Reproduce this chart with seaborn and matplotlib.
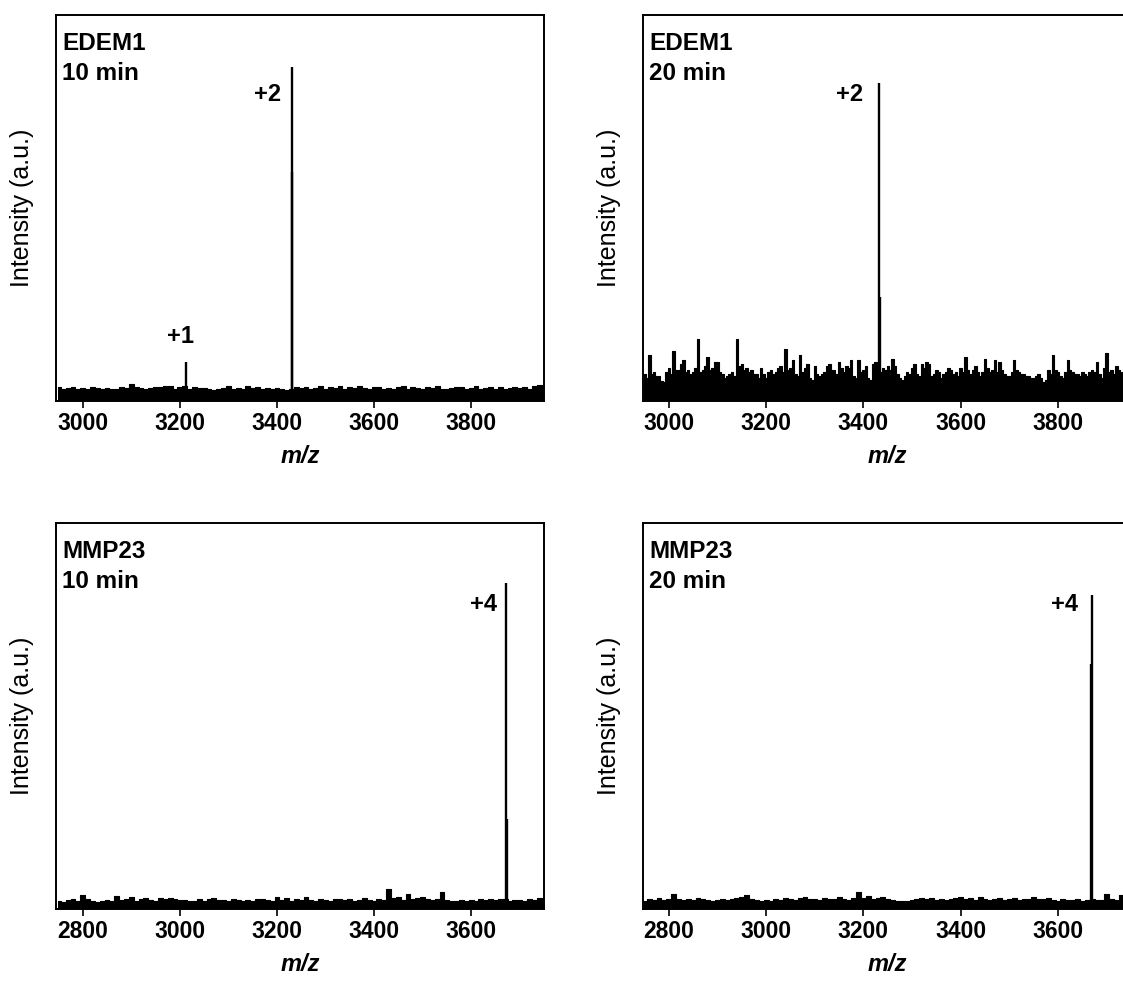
import numpy as np
import pandas as pd
import matplotlib
matplotlib.use("Agg")
import matplotlib.pyplot as plt
import seaborn as sns

# ---------------- data (intensity in % of axis height) ----------------
tl_start, tl_step = 2950, 10
tl_noise = [3.6, 3.0, 3.3, 3.5, 3.2, 3.4, 3.0, 3.6, 3.3, 3.1,
            3.4, 3.2, 3.0, 3.5, 3.3, 4.5, 3.6, 3.4, 3.1, 3.3,
            3.6, 3.5, 3.8, 4.0, 3.2, 3.5, 3.8, 3.0, 3.6, 3.3,
            3.4, 3.2, 2.8, 3.0, 3.3, 3.9, 3.1, 3.4, 3.2, 3.8,
            3.3, 3.6, 3.2, 3.4, 3.0, 3.3, 3.1, 2.8, 3.2, 3.5,
            3.3, 3.6, 3.2, 3.4, 4.0, 3.1, 3.5, 3.3, 3.8, 3.2,
            3.6, 3.4, 3.9, 3.3, 3.1, 3.5, 3.7, 3.2, 3.4, 3.0,
            3.6, 3.9, 3.2, 3.5, 3.3, 3.1, 3.6, 3.4, 3.8, 3.2,
            3.0, 3.3, 3.5, 3.7, 3.2, 3.4, 3.9, 3.1, 3.3, 3.6,
            3.2, 3.5, 3.0, 3.4, 3.7, 3.3, 3.6, 3.2, 3.8, 4.2, 3.6]
tl_peak_mz = [3212, 3430, 3432]
tl_peak_int = [10.0, 86.5, 59.3]

tr_start, tr_step = 2950, 5
tr_noise = [7.0, 6.0, 12.0, 7.0, 7.5, 6.5, 6.5, 5.2, 5.0, 7.5,
            8.5, 7.0, 13.0, 8.0, 8.0, 9.5, 10.5, 7.5, 8.0, 7.0,
            7.5, 8.5, 16.0, 7.5, 8.0, 9.0, 11.5, 8.0, 8.5, 10.0,
            10.0, 7.5, 7.0, 6.0, 6.5, 7.0, 7.5, 6.5, 16.0, 9.0,
            9.5, 8.0, 8.5, 7.5, 8.0, 7.0, 7.0, 6.0, 8.5, 7.0,
            6.0, 7.5, 8.0, 7.0, 7.5, 8.5, 9.0, 7.5, 13.5, 8.0,
            8.5, 10.5, 7.0, 6.5, 12.0, 7.5, 8.5, 9.5, 6.0, 5.5,
            9.0, 7.0, 6.5, 7.0, 7.5, 9.0, 9.5, 8.0, 8.0, 7.0,
            10.0, 8.5, 7.5, 9.0, 8.5, 10.5, 6.5, 6.0, 10.5, 7.5,
            8.0, 9.0, 6.0, 5.5, 9.5, 10.0, 7.5, 7.5, 8.5, 8.0,
            9.0, 8.0, 11.0, 9.0, 7.0, 6.0, 5.5, 6.5, 7.5, 7.0,
            8.5, 9.5, 7.0, 6.5, 9.5, 8.5, 10.0, 9.5, 6.5, 7.0,
            8.0, 7.5, 6.0, 7.0, 7.5, 8.5, 8.0, 7.0, 7.5, 6.5,
            8.5, 7.5, 11.5, 8.0, 7.0, 8.0, 9.0, 7.5, 6.5, 7.5,
            11.0, 8.5, 7.5, 8.0, 10.5, 7.5, 10.0, 8.0, 7.0, 6.5,
            6.5, 7.5, 10.5, 8.0, 7.5, 7.0, 7.0, 6.5, 6.5, 6.0,
            6.0, 6.5, 7.0, 6.0, 5.0, 5.5, 8.0, 7.0, 12.0, 8.0,
            7.5, 6.5, 6.0, 7.5, 10.5, 8.0, 7.5, 7.0, 7.0, 6.5,
            7.5, 7.0, 6.5, 7.5, 8.0, 7.5, 10.0, 7.0, 6.0, 8.5,
            12.5, 7.5, 8.0, 7.0, 9.0, 8.0, 7.5, 7.0, 8.0, 7.5, 7.5]
tr_peak_mz = [3432, 3434]
tr_peak_int = [82.4, 27.0]

bl_start, bl_step = 2750, 10
bl_noise = [2.0, 1.8, 2.3, 2.5, 2.2, 3.5, 2.6, 2.2, 1.9, 2.1,
            2.4, 2.2, 3.3, 2.3, 2.5, 3.0, 2.2, 2.6, 2.9, 2.4,
            2.2, 2.8, 2.5, 2.9, 2.6, 2.3, 2.4, 2.0, 2.2, 2.7,
            2.1, 2.5, 2.8, 2.3, 2.4, 2.2, 2.6, 2.3, 2.0, 2.4,
            2.2, 2.5, 2.7, 2.3, 2.1, 3.2, 2.4, 2.8, 2.2, 2.6,
            2.4, 3.0, 2.3, 2.1, 2.6, 2.4, 2.2, 2.5, 2.7, 2.3,
            2.6, 2.1, 2.4, 2.9, 2.3, 2.1, 2.6, 2.4, 5.2, 2.8,
            3.0, 2.4, 4.0, 2.6, 2.8, 3.2, 2.5, 2.3, 2.6, 4.5,
            2.4, 2.2, 2.0, 2.3, 2.1, 2.4, 2.2, 2.5, 2.3, 2.6,
            2.4, 2.7, 2.5, 2.2, 2.4, 2.3, 2.1, 2.5, 2.4, 2.8, 2.5]
bl_peak_mz = [3672, 3674]
bl_peak_int = [84.4, 23.4]

br_start, br_step = 2750, 10
br_noise = [2.2, 2.6, 2.4, 2.8, 2.3, 2.5, 3.8, 2.6, 2.3, 2.7,
            2.4, 2.9, 2.5, 2.3, 2.2, 2.4, 2.6, 2.3, 2.7, 2.9,
            3.0, 3.6, 2.5, 2.3, 2.2, 2.4, 2.1, 2.5, 2.3, 2.8,
            2.6, 2.4, 2.9, 3.1, 2.5, 2.7, 2.3, 2.9, 2.5, 2.6,
            3.2, 2.7, 2.4, 2.8, 4.5, 2.9, 3.3, 2.6, 2.8, 3.2,
            2.5, 2.3, 2.1, 2.2, 2.0, 2.4, 2.6, 2.8, 2.5, 2.9,
            2.4, 2.6, 2.3, 2.5, 2.8, 3.2, 2.6, 2.9, 2.4, 3.0,
            2.5, 2.3, 2.6, 2.9, 2.4, 2.6, 2.8, 2.3, 2.5, 2.7,
            3.1, 2.5, 2.6, 2.9, 2.4, 2.2, 2.5, 2.3, 2.4, 2.6,
            2.2, 2.4, 2.5, 2.3, 2.4, 3.8, 2.6, 2.4, 3.6, 2.5, 2.5]
br_peak_mz = [3668, 3670]
br_peak_int = [63.6, 81.3]

# charge-state labels: (m/z anchor, y %, text)
tl_labels = [(3408, 79.5, "+2"), (3202, 16.6, "+1")]
tr_labels = [(3399, 79.5, "+2")]
bl_labels = [(3653, 79.0, "+4")]
br_labels = [(3641, 79.0, "+4")]

panel_names = ["EDEM1", "EDEM1", "MMP23", "MMP23"]
panel_times = ["10 min", "20 min", "10 min", "20 min"]
xlims = [(2945, 3950), (2947, 3950), (2745, 3750), (2747, 3750)]
xticks_top = [3000, 3200, 3400, 3600, 3800]
xticks_bottom = [2800, 3000, 3200, 3400, 3600]

# ---------------- style ----------------
sns.set_style("ticks")
plt.rcParams["font.family"] = ["Liberation Sans", "DejaVu Sans"]
plt.rcParams["text.color"] = "black"
plt.rcParams["axes.labelcolor"] = "black"
plt.rcParams["xtick.color"] = "black"
plt.rcParams["axes.linewidth"] = 1.4

W, H = 1123, 981
fig = plt.figure(figsize=(W / 100, H / 100), dpi=100)

def px_axes(left, top, right, bottom):
    return fig.add_axes([left / W, 1 - bottom / H, (right - left) / W, (bottom - top) / H])

axes = [px_axes(56, 15, 544, 401), px_axes(643, 15, 1131, 401),
        px_axes(56, 523, 544, 909), px_axes(643, 523, 1131, 909)]

panels = [
    (tl_start, tl_step, tl_noise, tl_peak_mz, tl_peak_int, tl_labels, xticks_top),
    (tr_start, tr_step, tr_noise, tr_peak_mz, tr_peak_int, tr_labels, xticks_top),
    (bl_start, bl_step, bl_noise, bl_peak_mz, bl_peak_int, bl_labels, xticks_bottom),
    (br_start, br_step, br_noise, br_peak_mz, br_peak_int, br_labels, xticks_bottom),
]

for i, (ax, (start, step, noise, pk_mz, pk_int, labels, xt)) in enumerate(zip(axes, panels)):
    df = pd.DataFrame({"mz": start + step * np.arange(len(noise)),
                       "intensity": noise})
    ax.fill_between(df["mz"], 0, df["intensity"], step="mid", color="black", lw=0)
    sns.lineplot(data=df, x="mz", y="intensity", ax=ax, color="black",
                 lw=0.8, drawstyle="steps-mid", estimator=None)
    peaks = pd.DataFrame({"mz": pk_mz, "intensity": pk_int})
    ax.vlines(peaks["mz"], 0, peaks["intensity"], color="black", lw=1.7)

    for (lx, ly, txt) in labels:
        ha = "right" if txt != "+1" else "center"
        ax.text(lx, ly, txt, ha=ha, va="center", fontsize=17,
                fontweight="bold", color="black")

    ax.text(0.013, 0.909, panel_names[i], transform=ax.transAxes, ha="left",
            va="baseline", fontsize=17.5, fontweight="bold")
    ax.text(0.013, 0.832, panel_times[i], transform=ax.transAxes, ha="left",
            va="baseline", fontsize=17.5, fontweight="bold")

    ax.set_xlim(*xlims[i])
    ax.set_ylim(0, 100)
    ax.set_xticks(xt)
    ax.set_xticklabels([str(t) for t in xt], fontsize=16.5, fontweight="bold")
    ax.set_yticks([])
    ax.tick_params(axis="x", direction="out", length=5, width=1.2, pad=3,
                   bottom=True, top=False)
    ax.set_xlabel("m/z", fontsize=17, fontweight="bold", style="italic", labelpad=7)
    ax.set_ylabel("Intensity (a.u.)", fontsize=18, fontweight="normal")
    ax.yaxis.set_label_coords(-0.045, 0.5)
    for s in ax.spines.values():
        s.set_visible(True)
        s.set_color("black")
        s.set_linewidth(1.4)

fig.savefig("out.png", dpi=100, facecolor="white")
